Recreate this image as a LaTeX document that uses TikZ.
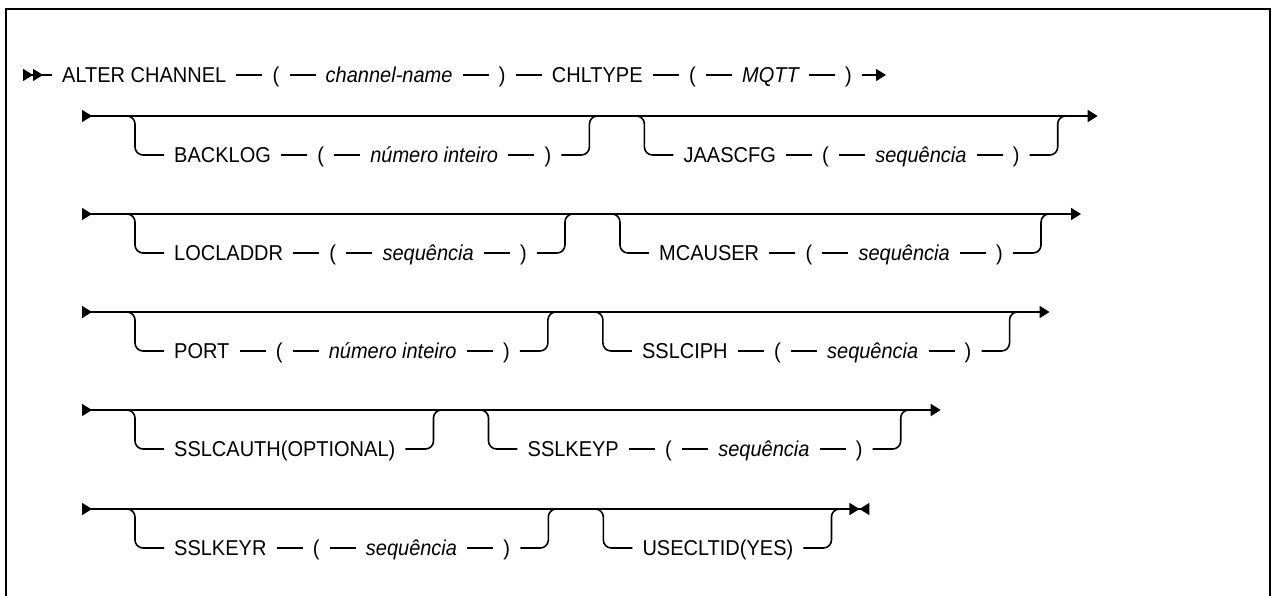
\documentclass[tikz,border=0pt]{standalone}
\usepackage{fontspec}
\setmainfont{Liberation Sans}[FakeStretch=0.93]
\usetikzlibrary{
  arrows.meta,
  calc,
  positioning
}
\definecolor{ink}{HTML}{000000}
\tikzset{
  frame/.style={
    line width=2pt,
    draw=ink
  },
  rail/.style={
    line width=1.6pt,
    draw=ink
  },
  bracket/.style={
    rail,
    rounded corners=8pt
  },
  railtitle/.style={
    rail,
    {Triangle[reversed, length=10pt, width=12pt] Triangle[reversed, length=10pt, width=12pt]}-
  },
  railend/.style={
    rail,
    -{Triangle[length=10pt, width=12pt]}
  },
  railrow/.style={
    rail,
    {Triangle[reversed, length=10pt, width=12pt]}-{Triangle[length=10pt, width=12pt]}
  },
  raillast/.style={
    rail,
    {Triangle[reversed, length=10pt, width=12pt]}-{Triangle[length=10pt, width=12pt] Triangle[reversed, length=10pt, width=12pt]}
  },
  kw/.style={
    inner xsep=10pt,
    inner ysep=0pt,
    text height=19pt,
    text depth=4pt,
    font=\fontsize{21.5pt}{25pt}\selectfont
  },
  var/.style={
    kw,
    font=\fontsize{21.5pt}{25pt}\selectfont\itshape
  }
}

\begin{document}
\begin{tikzpicture}[x=1pt, y=-1pt, node distance=26pt]
  \useasboundingbox (0,0) rectangle (1273,596);
  \draw[frame] (6,596) -- (6,9) -- (1270,9) -- (1270,596);

  % ALTER CHANNEL line
  \coordinate (titlestart) at (23,75);
  \node[kw, anchor=west] (alter) at (52,75) {ALTER CHANNEL};
  \node[kw, right=of alter] (namelp) {(};
  \node[var, right=of namelp] (chname) {channel-name};
  \node[kw, right=of chname] (namerp) {)};
  \node[kw, right=of namerp] (chltype) {CHLTYPE};
  \node[kw, right=of chltype] (typelp) {(};
  \node[var, right=of typelp] (mqtt) {MQTT};
  \node[kw, right=of mqtt] (typerp) {)};
  \coordinate[right=24pt of typerp] (titleend);
  \draw[railtitle] (titlestart) -- (alter);
  \draw[rail] (alter) -- (namelp);
  \draw[rail] (namelp) -- (chname);
  \draw[rail] (chname) -- (namerp);
  \draw[rail] (namerp) -- (chltype);
  \draw[rail] (chltype) -- (typelp);
  \draw[rail] (typelp) -- (mqtt);
  \draw[rail] (mqtt) -- (typerp);
  \draw[railend] (typerp) -- (titleend);

  % row 1: BACKLOG, JAASCFG
  \coordinate (row1start) at (82,116);
  \coordinate (backlogin) at (135,116);
  \node[kw, anchor=west] (backlog) at ($(backlogin)+(29,39)$) {BACKLOG};
  \node[kw, right=of backlog] (backloglp) {(};
  \node[var, right=of backloglp] (backlogval) {número inteiro};
  \node[kw, right=of backlogval] (backlogrp) {)};
  \coordinate (backlogout) at ($(backlogrp.east |- backlogin)+(28,0)$);
  \draw[rail] (backlog) -- (backloglp);
  \draw[rail] (backloglp) -- (backlogval);
  \draw[rail] (backlogval) -- (backlogrp);
  \draw[bracket] ($(backlogin)+(-12,0)$) -- (backlogin) -- (backlogin |- backlog) -- (backlog);
  \draw[bracket] (backlogrp) -- (backlogout |- backlogrp) -- (backlogout) -- ($(backlogout)+(12,0)$);

  \coordinate (jaasin) at ($(backlogout)+(55,0)$);
  \node[kw, anchor=west] (jaas) at ($(jaasin)+(29,39)$) {JAASCFG};
  \node[kw, right=of jaas] (jaaslp) {(};
  \node[var, right=of jaaslp] (jaasval) {sequência};
  \node[kw, right=of jaasval] (jaasrp) {)};
  \coordinate (jaasout) at ($(jaasrp.east |- jaasin)+(28,0)$);
  \draw[rail] (jaas) -- (jaaslp);
  \draw[rail] (jaaslp) -- (jaasval);
  \draw[rail] (jaasval) -- (jaasrp);
  \draw[bracket] ($(jaasin)+(-12,0)$) -- (jaasin) -- (jaasin |- jaas) -- (jaas);
  \draw[bracket] (jaasrp) -- (jaasout |- jaasrp) -- (jaasout) -- ($(jaasout)+(12,0)$);

  \coordinate (row1end) at ($(jaasout)+(40,0)$);
  \draw[railrow] (row1start) -- (row1end);

  % row 2: LOCLADDR, MCAUSER
  \coordinate (row2start) at (82,214);
  \coordinate (locladdrin) at (135,214);
  \node[kw, anchor=west] (locladdr) at ($(locladdrin)+(29,39)$) {LOCLADDR};
  \node[kw, right=of locladdr] (locladdrlp) {(};
  \node[var, right=of locladdrlp] (locladdrval) {sequência};
  \node[kw, right=of locladdrval] (locladdrrp) {)};
  \coordinate (locladdrout) at ($(locladdrrp.east |- locladdrin)+(28,0)$);
  \draw[rail] (locladdr) -- (locladdrlp);
  \draw[rail] (locladdrlp) -- (locladdrval);
  \draw[rail] (locladdrval) -- (locladdrrp);
  \draw[bracket] ($(locladdrin)+(-12,0)$) -- (locladdrin) -- (locladdrin |- locladdr) -- (locladdr);
  \draw[bracket] (locladdrrp) -- (locladdrout |- locladdrrp) -- (locladdrout) -- ($(locladdrout)+(12,0)$);

  \coordinate (mcauserin) at ($(locladdrout)+(55,0)$);
  \node[kw, anchor=west] (mcauser) at ($(mcauserin)+(29,39)$) {MCAUSER};
  \node[kw, right=of mcauser] (mcauserlp) {(};
  \node[var, right=of mcauserlp] (mcauserval) {sequência};
  \node[kw, right=of mcauserval] (mcauserrp) {)};
  \coordinate (mcauserout) at ($(mcauserrp.east |- mcauserin)+(28,0)$);
  \draw[rail] (mcauser) -- (mcauserlp);
  \draw[rail] (mcauserlp) -- (mcauserval);
  \draw[rail] (mcauserval) -- (mcauserrp);
  \draw[bracket] ($(mcauserin)+(-12,0)$) -- (mcauserin) -- (mcauserin |- mcauser) -- (mcauser);
  \draw[bracket] (mcauserrp) -- (mcauserout |- mcauserrp) -- (mcauserout) -- ($(mcauserout)+(12,0)$);

  \coordinate (row2end) at ($(mcauserout)+(40,0)$);
  \draw[railrow] (row2start) -- (row2end);

  % row 3: PORT, SSLCIPH
  \coordinate (row3start) at (82,312);
  \coordinate (portin) at (135,312);
  \node[kw, anchor=west] (port) at ($(portin)+(29,39)$) {PORT};
  \node[kw, right=of port] (portlp) {(};
  \node[var, right=of portlp] (portval) {número inteiro};
  \node[kw, right=of portval] (portrp) {)};
  \coordinate (portout) at ($(portrp.east |- portin)+(28,0)$);
  \draw[rail] (port) -- (portlp);
  \draw[rail] (portlp) -- (portval);
  \draw[rail] (portval) -- (portrp);
  \draw[bracket] ($(portin)+(-12,0)$) -- (portin) -- (portin |- port) -- (port);
  \draw[bracket] (portrp) -- (portout |- portrp) -- (portout) -- ($(portout)+(12,0)$);

  \coordinate (sslciphin) at ($(portout)+(55,0)$);
  \node[kw, anchor=west] (sslciph) at ($(sslciphin)+(29,39)$) {SSLCIPH};
  \node[kw, right=of sslciph] (sslciphlp) {(};
  \node[var, right=of sslciphlp] (sslciphval) {sequência};
  \node[kw, right=of sslciphval] (sslciphrp) {)};
  \coordinate (sslciphout) at ($(sslciphrp.east |- sslciphin)+(28,0)$);
  \draw[rail] (sslciph) -- (sslciphlp);
  \draw[rail] (sslciphlp) -- (sslciphval);
  \draw[rail] (sslciphval) -- (sslciphrp);
  \draw[bracket] ($(sslciphin)+(-12,0)$) -- (sslciphin) -- (sslciphin |- sslciph) -- (sslciph);
  \draw[bracket] (sslciphrp) -- (sslciphout |- sslciphrp) -- (sslciphout) -- ($(sslciphout)+(12,0)$);

  \coordinate (row3end) at ($(sslciphout)+(40,0)$);
  \draw[railrow] (row3start) -- (row3end);

  % row 4: SSLCAUTH, SSLKEYP
  \coordinate (row4start) at (82,410);
  \coordinate (sslcauthin) at (135,410);
  \node[kw, anchor=west] (sslcauth) at ($(sslcauthin)+(29,39)$) {SSLCAUTH(OPTIONAL)};
  \coordinate (sslcauthout) at ($(sslcauth.east |- sslcauthin)+(28,0)$);
  \draw[bracket] ($(sslcauthin)+(-12,0)$) -- (sslcauthin) -- (sslcauthin |- sslcauth) -- (sslcauth);
  \draw[bracket] (sslcauth) -- (sslcauthout |- sslcauth) -- (sslcauthout) -- ($(sslcauthout)+(12,0)$);

  \coordinate (sslkeypin) at ($(sslcauthout)+(55,0)$);
  \node[kw, anchor=west] (sslkeyp) at ($(sslkeypin)+(29,39)$) {SSLKEYP};
  \node[kw, right=of sslkeyp] (sslkeyplp) {(};
  \node[var, right=of sslkeyplp] (sslkeypval) {sequência};
  \node[kw, right=of sslkeypval] (sslkeyprp) {)};
  \coordinate (sslkeypout) at ($(sslkeyprp.east |- sslkeypin)+(28,0)$);
  \draw[rail] (sslkeyp) -- (sslkeyplp);
  \draw[rail] (sslkeyplp) -- (sslkeypval);
  \draw[rail] (sslkeypval) -- (sslkeyprp);
  \draw[bracket] ($(sslkeypin)+(-12,0)$) -- (sslkeypin) -- (sslkeypin |- sslkeyp) -- (sslkeyp);
  \draw[bracket] (sslkeyprp) -- (sslkeypout |- sslkeyprp) -- (sslkeypout) -- ($(sslkeypout)+(12,0)$);

  \coordinate (row4end) at ($(sslkeypout)+(40,0)$);
  \draw[railrow] (row4start) -- (row4end);

  % row 5: SSLKEYR, USECLTID
  \coordinate (row5start) at (82,509);
  \coordinate (sslkeyrin) at (135,509);
  \node[kw, anchor=west] (sslkeyr) at ($(sslkeyrin)+(29,39)$) {SSLKEYR};
  \node[kw, right=of sslkeyr] (sslkeyrlp) {(};
  \node[var, right=of sslkeyrlp] (sslkeyrval) {sequência};
  \node[kw, right=of sslkeyrval] (sslkeyrrp) {)};
  \coordinate (sslkeyrout) at ($(sslkeyrrp.east |- sslkeyrin)+(28,0)$);
  \draw[rail] (sslkeyr) -- (sslkeyrlp);
  \draw[rail] (sslkeyrlp) -- (sslkeyrval);
  \draw[rail] (sslkeyrval) -- (sslkeyrrp);
  \draw[bracket] ($(sslkeyrin)+(-12,0)$) -- (sslkeyrin) -- (sslkeyrin |- sslkeyr) -- (sslkeyr);
  \draw[bracket] (sslkeyrrp) -- (sslkeyrout |- sslkeyrrp) -- (sslkeyrout) -- ($(sslkeyrout)+(12,0)$);

  \coordinate (usecltidin) at ($(sslkeyrout)+(55,0)$);
  \node[kw, anchor=west] (usecltid) at ($(usecltidin)+(29,39)$) {USECLTID(YES)};
  \coordinate (usecltidout) at ($(usecltid.east |- usecltidin)+(28,0)$);
  \draw[bracket] ($(usecltidin)+(-12,0)$) -- (usecltidin) -- (usecltidin |- usecltid) -- (usecltid);
  \draw[bracket] (usecltid) -- (usecltidout |- usecltid) -- (usecltidout) -- ($(usecltidout)+(12,0)$);

  \coordinate (row5end) at ($(usecltidout)+(38,0)$);
  \draw[raillast] (row5start) -- (row5end);
\end{tikzpicture}
\end{document}
